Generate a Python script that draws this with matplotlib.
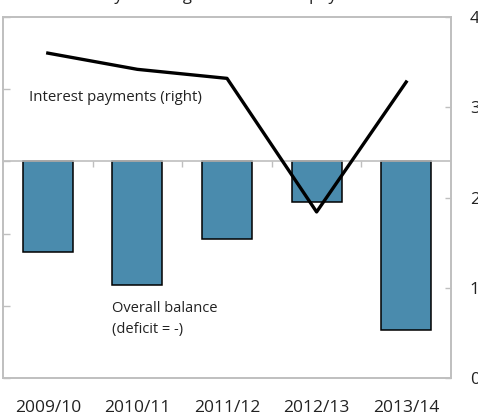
import matplotlib
matplotlib.use("Agg")
import matplotlib.pyplot as plt
import numpy as np

plt.rcParams['font.family'] = ['Open Sans', 'DejaVu Sans']

categories = ["2009/10", "2010/11", "2011/12", "2012/13", "2013/14"]
overall_balance = [-1.25, -1.71, -1.07, -0.56, -2.33]      # left axis
interest_payments = [3.60, 3.42, 3.32, 1.84, 3.28]        # right axis
right_ticks = [0, 1, 2, 3, 4]
right_labels = ["0", "1", "2", "3", "4"]
left_ticks = [-3, -2, -1, 0, 1, 2]
title = "Fiscal year budget and interest payments"

grey = "#bfbfbf"
bar_color = "#4a8bad"
text_color = "#222222"

fig = plt.figure(figsize=(4.78, 4.17), dpi=100)
ax = fig.add_axes([3/478, 39/417, 448/478, 361/417])
x = np.arange(len(categories))

ax.bar(x, overall_balance, width=0.56, color=bar_color, edgecolor="black", linewidth=1.1, zorder=2)
ax.axhline(0, color=grey, linewidth=1.2, zorder=3)
ax.set_xlim(-0.5, len(categories) - 0.5)
ax.set_ylim(-3, 2)
ax.set_yticks(left_ticks)
ax.tick_params(axis='y', direction='in', length=5, color=grey, width=1, labelleft=False)
ax.set_xticks(x)
ax.set_xticklabels(categories, fontsize=12.5, color=text_color)
ax.tick_params(axis='x', length=0, pad=16)
for s in ax.spines.values():
    s.set_color(grey)
    s.set_linewidth(1.2)

# category separators on the zero line
sec = ax.secondary_xaxis(3/5)
sec.set_xticks(np.arange(len(categories) - 1) + 0.5)
sec.set_xticklabels([])
sec.tick_params(direction='in', length=4, color=grey, width=1)
for s in sec.spines.values():
    s.set_visible(False)

ax2 = ax.twinx()
ax2.plot(x, interest_payments, color="black", linewidth=2.4, zorder=3)
ax2.set_ylim(0, 4)
ax2.set_yticks(right_ticks)
ax2.set_yticklabels(right_labels, fontsize=12.5, color=text_color)
ax2.tick_params(axis='y', direction='in', length=4, color=grey, width=1, pad=13.5)
for s in ax2.spines.values():
    s.set_color(grey)
    s.set_linewidth(1.2)

ax.text(0.058, 0.778, "Interest payments (right)", transform=ax.transAxes,
        fontsize=10.8, color=text_color, va='center', ha='left')
ax.text(0.243, 0.163, "Overall balance\n(deficit = -)", transform=ax.transAxes,
        fontsize=10.5, color=text_color, va='center', ha='left', linespacing=1.5)

fig.text(227/478, 1 + 0.5/417, title, fontsize=12, color=text_color, ha='center', va='baseline')

fig.savefig("out.png", dpi=100)
